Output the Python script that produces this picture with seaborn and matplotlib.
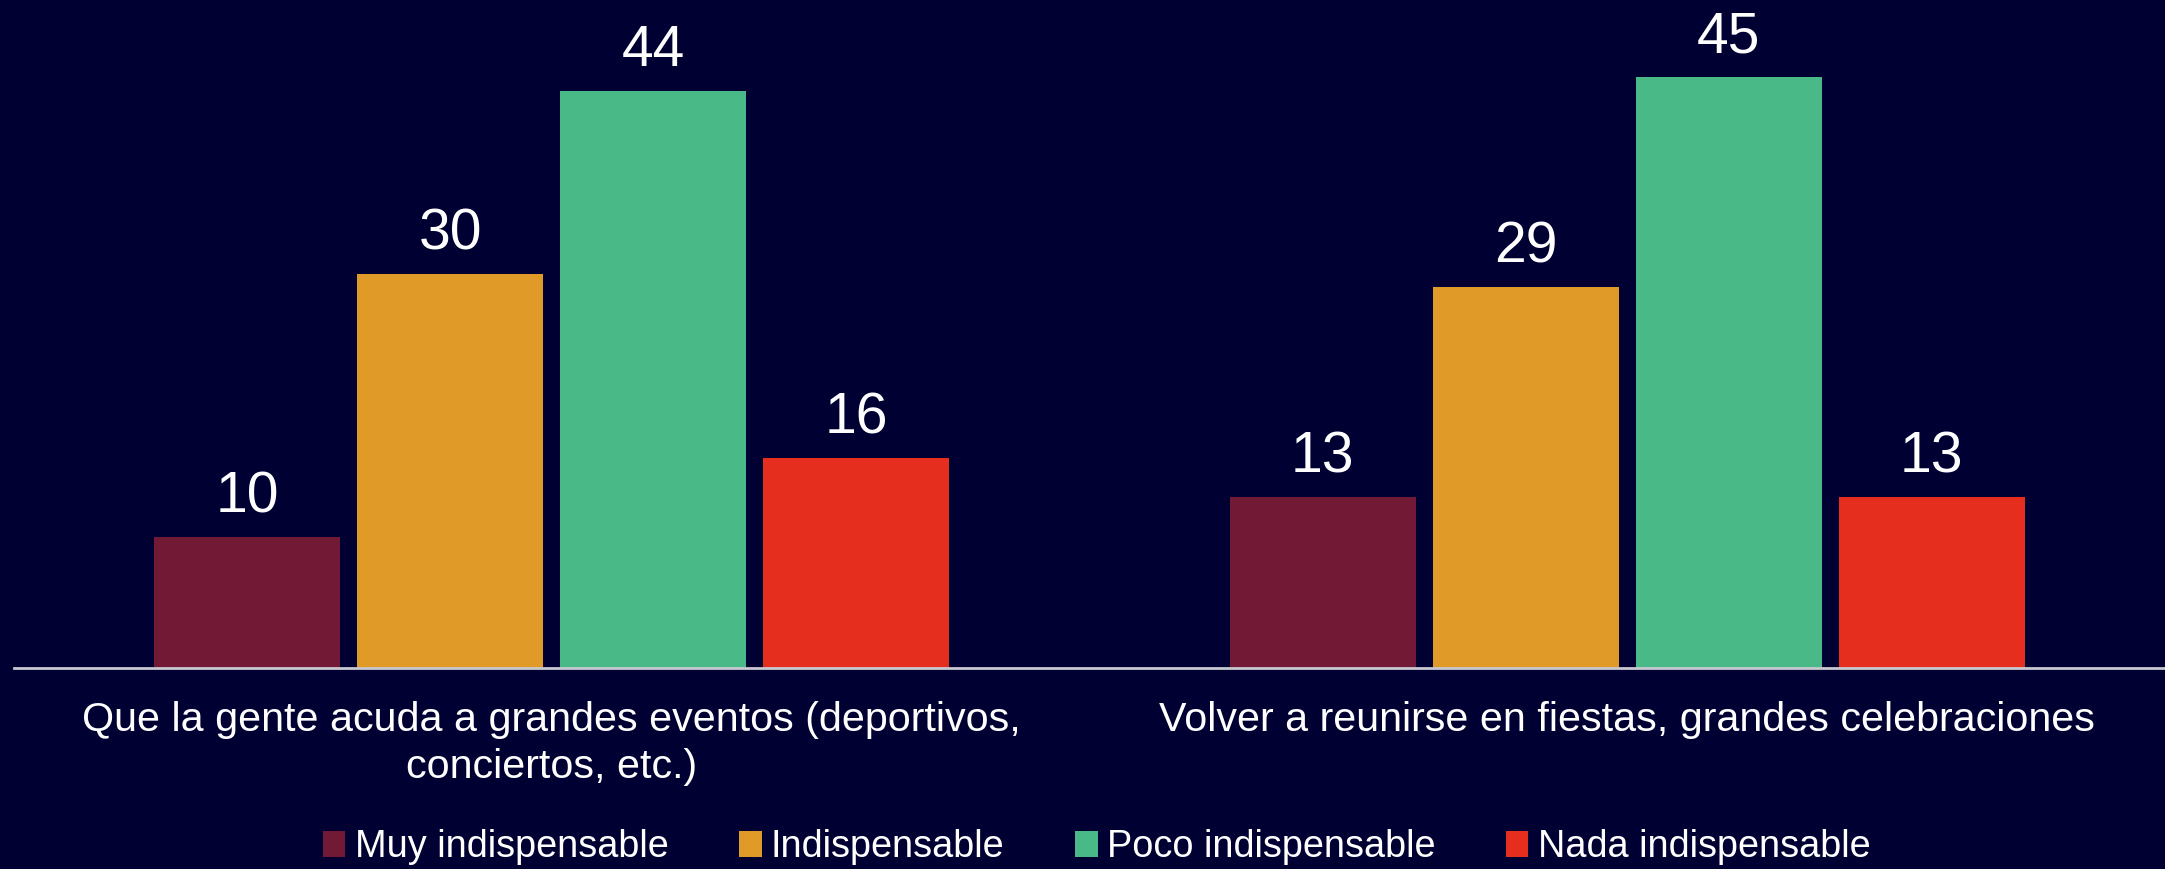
import matplotlib
matplotlib.use("Agg")
import matplotlib.pyplot as plt
import seaborn as sns
import pandas as pd

categories = [
    "Que la gente acuda a grandes eventos (deportivos,\nconciertos, etc.)",
    "Volver a reunirse en fiestas, grandes celebraciones",
]
series_names = ["Muy indispensable", "Indispensable", "Poco indispensable", "Nada indispensable"]
muy = [10, 13]
indis = [30, 29]
poco = [44, 45]
nada = [16, 13]
colors = ["#721A35", "#E09A27", "#48B987", "#E52E1D"]

values = {"Muy indispensable": muy, "Indispensable": indis,
          "Poco indispensable": poco, "Nada indispensable": nada}
rows = []
for s in series_names:
    for c, v in zip(categories, values[s]):
        rows.append({"Categoria": c, "Respuesta": s, "Valor": v})
df = pd.DataFrame(rows)

BG = "#000033"
sns.set_theme(style="white")
plt.rcParams["font.family"] = ["Liberation Sans", "DejaVu Sans"]

fig = plt.figure(figsize=(21.65, 8.69), dpi=100, facecolor=BG)
ax = fig.add_axes([14 / 2165, 1 - 668 / 869, 1 - 14 / 2165, 668 / 869])
ax.set_facecolor(BG)

sns.barplot(data=df, x="Categoria", y="Valor", hue="Respuesta",
            order=categories, hue_order=series_names, palette=colors,
            width=0.755, gap=0.084, saturation=1, linewidth=0,
            edgecolor="none", ax=ax, legend=True)

for cont in ax.containers:
    ax.bar_label(cont, fmt="%d", padding=9, color="white", fontsize=41)

ax.set_xlim(-0.5, 1.5)
ax.set_ylim(0, 50.9)
ax.set_xlabel("")
ax.set_ylabel("")
ax.set_yticks([])
for side in ["top", "left", "right"]:
    ax.spines[side].set_visible(False)
ax.spines["bottom"].set_color("#C8C8D0")
ax.spines["bottom"].set_linewidth(2)
ax.tick_params(axis="x", length=0, pad=24, labelsize=29.7, colors="white")
for lab in ax.get_xticklabels():
    lab.set_linespacing(1.3)

handles, labels = ax.get_legend_handles_labels()
for h in handles:
    h.set_linewidth(0)
    h.set_edgecolor("none")
ax.legend_.remove()
leg = fig.legend(handles, labels, loc="center", bbox_to_anchor=(0.5065, 0.025),
                 ncol=4, frameon=False, fontsize=27.3, labelcolor="white",
                 handlelength=0.6, handleheight=0.68, handletextpad=0.25,
                 columnspacing=1.85, borderaxespad=0, borderpad=0)

fig.savefig("out.png", dpi=100, facecolor=BG)
